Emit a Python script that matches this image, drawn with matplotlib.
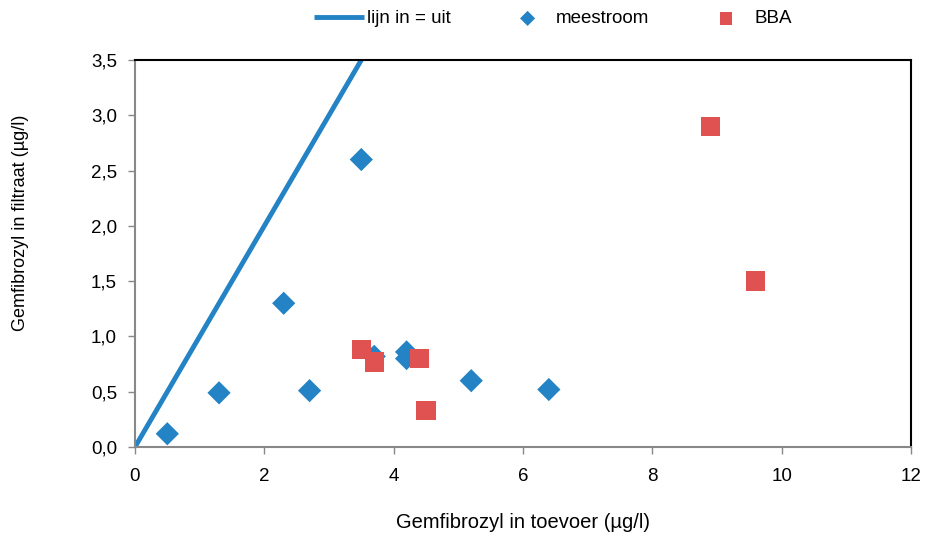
import matplotlib.pyplot as plt
import numpy as np
from matplotlib.ticker import FuncFormatter

plt.rcParams['font.family'] = ['Liberation Sans', 'DejaVu Sans']

# gemfibrozyl toevoer vs filtraat (ug/l)
mee_in = [0.5, 1.3, 2.3, 2.7, 3.5, 3.7, 4.2, 4.2, 5.2, 6.4]
mee_uit = [0.12, 0.49, 1.3, 0.51, 2.6, 0.82, 0.86, 0.80, 0.60, 0.52]

bba_in = [3.5, 3.7, 4.4, 4.5, 8.9, 9.6]
bba_uit = [0.88, 0.77, 0.80, 0.33, 2.9, 1.5]

lijn = [0, 3.5]

blue = '#2383c4'
red = '#e05252'

fig = plt.figure(figsize=(9.27, 5.36), dpi=100)
ax = fig.add_axes([0.1456, 0.166, 0.8371, 0.722])

ax.plot(lijn, lijn, color=blue, lw=3.5, solid_capstyle='butt', label='lijn in = uit', zorder=2)
ax.scatter(mee_in, mee_uit, marker='D', s=140, color=blue, edgecolors='none',
           label='meestroom', zorder=3)
ax.scatter(bba_in, bba_uit, marker='s', s=195, color=red, edgecolors='none',
           label='BBA', zorder=4)

ax.set_xlim(0, 12)
ax.set_ylim(0, 3.5)
ax.set_xticks(np.arange(0, 13, 2))
ax.set_yticks(np.arange(0, 3.51, 0.5))
ax.yaxis.set_major_formatter(FuncFormatter(lambda v, p: f'{v:.1f}'.replace('.', ',')))

for s in ['left', 'bottom']:
    ax.spines[s].set_color('#888888')
    ax.spines[s].set_linewidth(1.5)
for s in ['top', 'right']:
    ax.spines[s].set_color('black')
    ax.spines[s].set_linewidth(1.5)
ax.tick_params(direction='out', length=5, width=1, color='#888888', labelsize=13.5)
ax.tick_params(axis='x', pad=10)
ax.tick_params(axis='y', pad=8)

ax.set_xlabel('Gemfibrozyl in toevoer (µg/l)', fontsize=14.5, labelpad=20)
ax.set_ylabel('Gemfibrozyl in filtraat (µg/l)', fontsize=13)
ax.yaxis.set_label_coords(-0.136, 0.579)

fig.legend(loc='center left', bbox_to_anchor=(0.32, 0.965), ncol=3, frameon=False,
           fontsize=13.5, columnspacing=2.75, handlelength=2.7, handletextpad=0.15,
           scatterpoints=1, markerscale=0.65)

fig.savefig('out.png', dpi=100)
